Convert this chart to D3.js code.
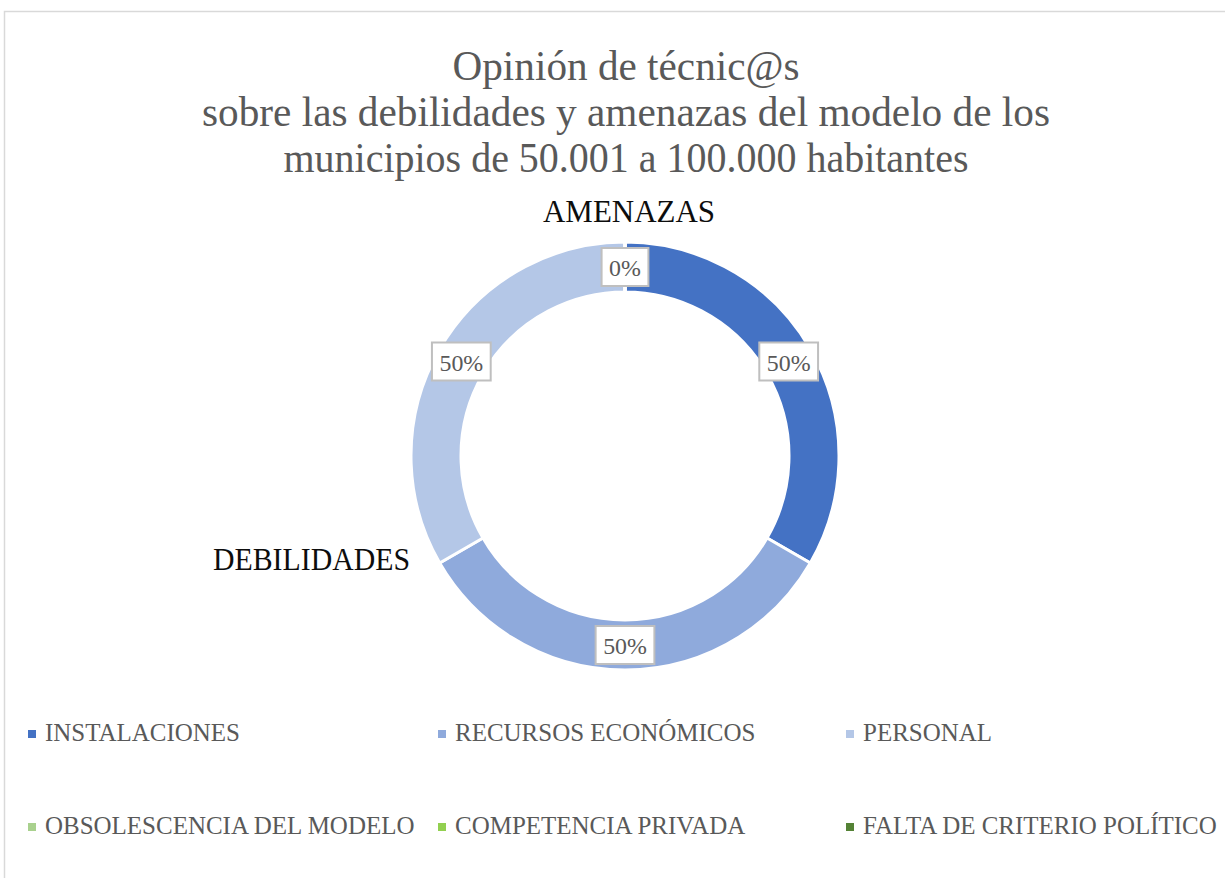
<!DOCTYPE html>
<html><head><meta charset="utf-8">
<script src="https://cdn.jsdelivr.net/npm/d3@7"></script>
<style>body{margin:0;background:#fff}</style>
</head><body>
<svg id="c" width="1225" height="878"></svg>
<script>
const titleLines = ["Opinión de técnic@s", "sobre las debilidades y amenazas del modelo de los", "municipios de 50.001 a 100.000 habitantes"];
const categories = ["INSTALACIONES", "RECURSOS ECONÓMICOS", "PERSONAL", "OBSOLESCENCIA DEL MODELO", "COMPETENCIA PRIVADA", "FALTA DE CRITERIO POLÍTICO"];
const values = [50, 50, 50, 0, 0, 0];
const colors = ["#4472C4", "#8FAADC", "#B4C7E7", "#A9D18E", "#92D050", "#548235"];
const groupLabels = ["AMENAZAS", "DEBILIDADES"];

const FONT = "'Liberation Serif','Times New Roman',serif";
const svg = d3.select("#c");
svg.append("rect").attr("width", 1225).attr("height", 878).attr("fill", "#fff");
svg.append("rect").attr("x", 4.5).attr("y", 11.5).attr("width", 1240).attr("height", 900)
  .attr("fill", "none").attr("stroke", "#d9d9d9").attr("stroke-width", 1.5);

// measure font width ratio vs reference
const tmp = svg.append("text").attr("font-family", FONT).attr("font-size", 38).text(titleLines[1]);
const k = 848 / tmp.node().getComputedTextLength();
tmp.remove();

// Title
const titleWidths = [347, 848, 685];
svg.append("g").selectAll("text").data(titleLines).join("text")
  .attr("x", 626).attr("y", (d, i) => 80 + i * 46)
  .attr("text-anchor", "middle").attr("font-family", FONT)
  .attr("font-size", 38 * k).attr("fill", "#595959")
  .attr("textLength", (d, i) => titleWidths[i]).attr("lengthAdjust", "spacingAndGlyphs")
  .text(d => d);

// Donut
const cx = 625, cy = 456, rOut = 214, rIn = 164;
const data = categories.map((c, i) => ({ c, v: values[i], col: colors[i] }));
const pie = d3.pie().sort(null).value(d => d.v).startAngle(0).endAngle(2 * Math.PI);
const arcs = pie(data);
const arc = d3.arc().innerRadius(rIn).outerRadius(rOut);
const labelArc = d3.arc().innerRadius((rIn + rOut) / 2).outerRadius((rIn + rOut) / 2);
const g = svg.append("g").attr("transform", `translate(${cx},${cy})`);
g.selectAll("path").data(arcs).join("path")
  .attr("d", arc).attr("fill", d => d.data.col)
  .attr("stroke", "#fff").attr("stroke-width", 3).attr("stroke-linejoin", "round");

// data labels (one per distinct position)
const seen = new Set();
const lab = arcs.filter(d => {
  const p = labelArc.centroid(d).map(v => Math.round(v)).join(",");
  if (seen.has(p)) return false; seen.add(p); return true;
});
const lg = g.selectAll("g.lab").data(lab).join("g").attr("class", "lab")
  .attr("transform", d => `translate(${labelArc.centroid(d)})`);
lg.append("rect");
lg.append("text").attr("text-anchor", "middle").attr("dominant-baseline", "central")
  .attr("y", 1).attr("font-family", FONT).attr("font-size", 22 * k).attr("fill", "#595959")
  .text(d => d.data.v + "%");
lg.each(function () {
  const t = d3.select(this).select("text").node();
  const w = t.getComputedTextLength() + 15;
  d3.select(this).select("rect").attr("x", -w / 2).attr("y", -19).attr("width", w).attr("height", 38)
    .attr("fill", "#fff").attr("stroke", "#bfbfbf").attr("stroke-width", 2);
});

// Group labels
svg.append("text").attr("x", 629).attr("y", 222).attr("text-anchor", "middle")
  .attr("font-family", FONT).attr("font-size", 29 * k).attr("fill", "#0d0d0d")
  .attr("textLength", 172).attr("lengthAdjust", "spacingAndGlyphs").text(groupLabels[0]);
svg.append("text").attr("x", 410).attr("y", 570).attr("text-anchor", "end")
  .attr("font-family", FONT).attr("font-size", 29 * k).attr("fill", "#0d0d0d")
  .attr("textLength", 197).attr("lengthAdjust", "spacingAndGlyphs").text(groupLabels[1]);

// Legend
const colX = [45, 455, 863], rowY = [741, 834];
const leg = svg.append("g").selectAll("g").data(data).join("g")
  .attr("transform", (d, i) => `translate(${colX[i % 3]},${rowY[Math.floor(i / 3)]})`);
leg.append("rect").attr("x", -17).attr("y", -11).attr("width", 8).attr("height", 8).attr("fill", d => d.col);
leg.append("text").attr("font-family", FONT).attr("font-size", 23 * k).attr("fill", "#595959").text(d => d.c);
</script>
</body></html>
